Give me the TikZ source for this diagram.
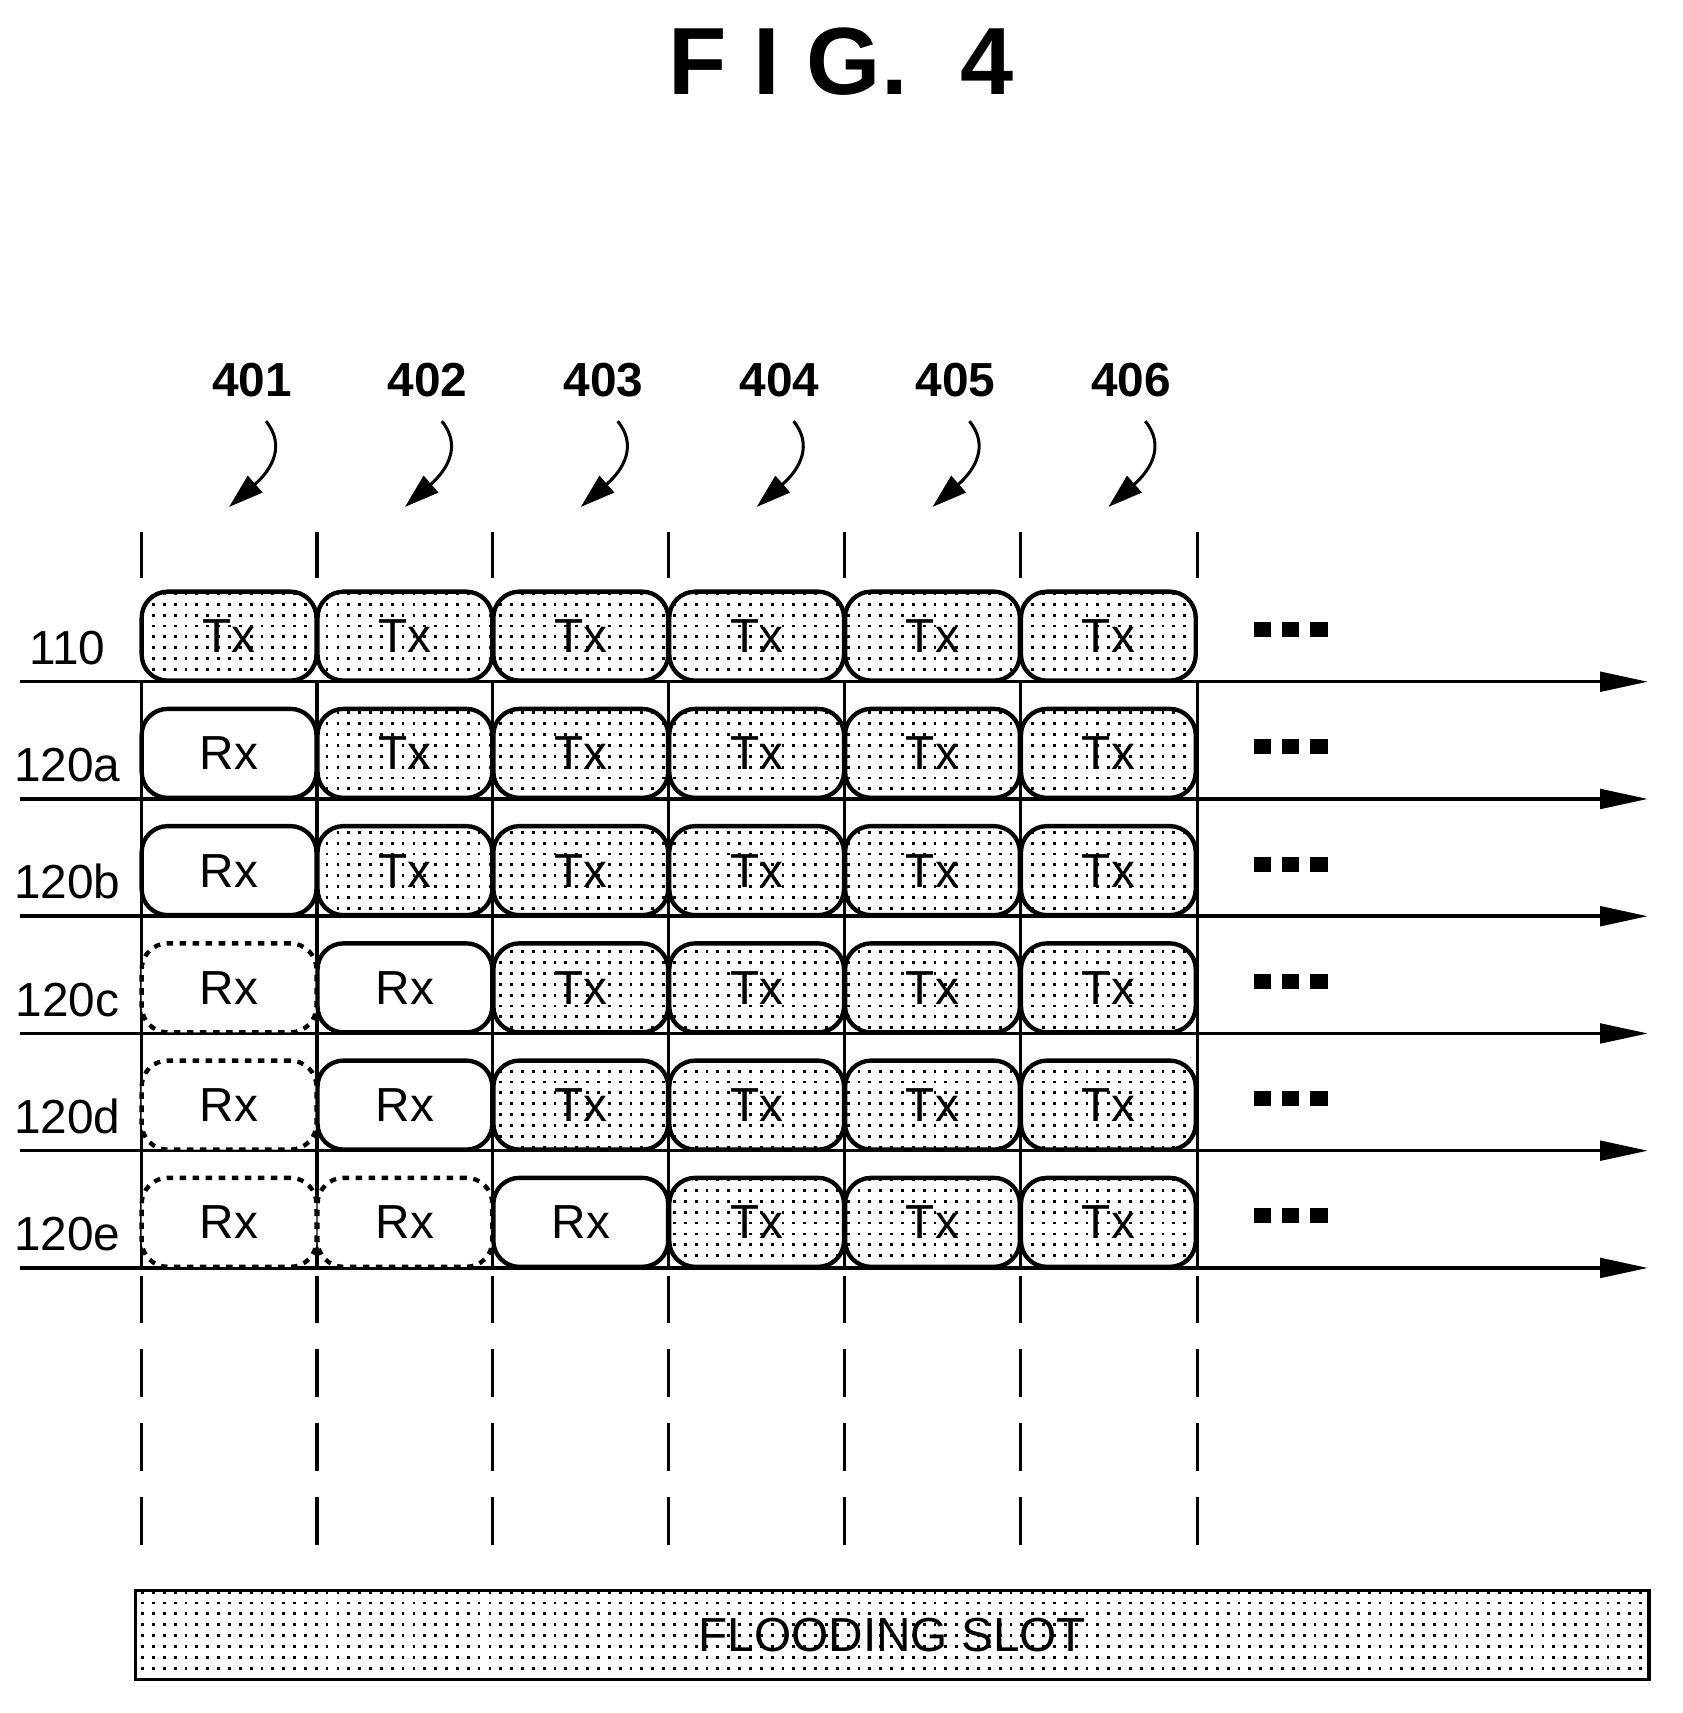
\documentclass[tikz,border=0pt]{standalone}
\usepackage{fontspec}
\setmainfont{Liberation Sans}
\usetikzlibrary{patterns,arrows.meta}
\pgfdeclarepatternformonly{bigdots}{\pgfqpoint{-1pt}{-1pt}}{\pgfqpoint{5pt}{5pt}}{\pgfqpoint{5pt}{5pt}}{%
  \pgfpathrectangle{\pgfqpoint{0pt}{0pt}}{\pgfqpoint{1.3pt}{1.3pt}}\pgfusepath{fill}}
\begin{document}
\begin{tikzpicture}[x=0.5pt,y=-0.5pt,
  slot/.style={draw,line width=2pt,rounded corners=12pt,inner sep=0pt,minimum width=80.5pt,minimum height=41pt,font=\fontsize{22}{24}\selectfont},
  tx/.style={slot,fill=white,postaction={pattern=bigdots}},
  rx/.style={slot,fill=white},
  ghost/.style={slot,fill=white,dashed},
  lbl/.style={font=\fontsize{22}{24}\selectfont},
  num/.style={font=\bfseries\fontsize{22}{24}\selectfont},
  axis/.style={line width=1.6pt,-{Triangle[length=22pt,width=9pt]}},
  sep/.style={line width=1.4pt},
  dsh/.style={line width=1.4pt,dash pattern=on 22pt off 12pt}]
\useasboundingbox (0,0) rectangle (1550,1578);
\node[font=\bfseries\fontsize{44}{50}\selectfont] (title) at (775,57) {F I G.\ \ 4};
\foreach \i/\xx in {0/130,1/292,2/454,3/616,4/778,5/940,6/1103}{
  \coordinate (t\i) at (\xx,490); \coordinate (u\i) at (\xx,532);
  \draw[sep] (t\i) -- (u\i);
  \coordinate (a\i) at (\xx,628); \coordinate (b\i) at (\xx,1168);
  \draw[sep] (a\i) -- (b\i);
  \coordinate (c\i) at (\xx,1175); \coordinate (d\i) at (\xx,1425);
  \draw[dsh] (c\i) -- (d\i);
}
\foreach \n/\xx in {401/211,402/373,403/535,404/697,405/859,406/1021}{
  \node[num] (n\n) at (\xx+21,350) {\n};
  \coordinate (s\n) at (\xx+34,388);
  \coordinate (e\n) at (\xx,467);
  \draw[line width=1.4pt,-{Triangle[length=16pt,width=10pt]}] (s\n) .. controls (\xx+52,410) and (\xx+40,432) .. (e\n);
}
\def\row#1#2#3{%
  \coordinate (L#2) at (18,#1); \coordinate (R#2) at (1518,#1);
  \draw[axis] (L#2) -- (R#2);
  \node[lbl,anchor=base] (lab#2) at (62,#1-16) {#2};
  \foreach \q in {0,1,2}{\fill (1155+\q*26,#1-55) rectangle ++(16,14);}
  \foreach \t [count=\k] in {#3}{
    \pgfmathsetmacro\cx{211+162*(\k-1)}
    \if\t T\node[tx] (b#2\k) at (\cx,#1-42) {Tx};\fi
    \if\t R\node[rx] (b#2\k) at (\cx,#1-42) {Rx};\fi
    \if\t G\node[ghost] (b#2\k) at (\cx,#1-42) {Rx};\fi
  }}
\row{628}{110}{T,T,T,T,T,T}
\row{736}{120a}{R,T,T,T,T,T}
\row{844}{120b}{R,T,T,T,T,T}
\row{952}{120c}{G,R,T,T,T,T}
\row{1060}{120d}{G,R,T,T,T,T}
\row{1168}{120e}{G,G,R,T,T,T}
\node[draw,line width=1.6pt,fill=white,postaction={pattern=bigdots},minimum width=697pt,minimum height=41pt,inner sep=0pt,font=\fontsize{22}{24}\selectfont] (flood) at (822,1506) {FLOODING SLOT};
\end{tikzpicture}
\end{document}
